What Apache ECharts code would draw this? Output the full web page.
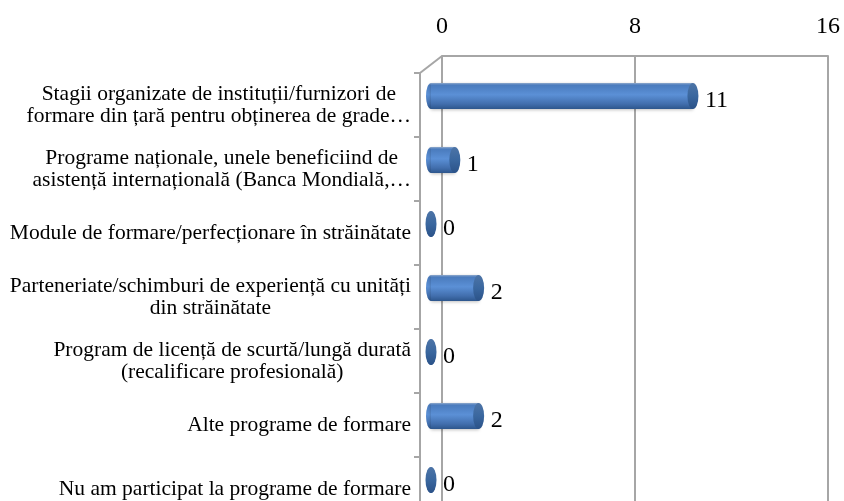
<!DOCTYPE html>
<html><head><meta charset="utf-8">
<script src="https://cdn.jsdelivr.net/npm/echarts@6/dist/echarts.min.js"></script>
<style>html,body{margin:0;padding:0;background:#fff}#c{width:844px;height:501px}</style>
</head><body><div id="c"></div>
<script>
var categories = [
  ["Stagii organizate de instituții/furnizori de", "formare din țară pentru obținerea de grade…"],
  ["Programe naționale, unele beneficiind de", "asistență internațională (Banca Mondială,…"],
  ["Module de formare/perfecționare în străinătate"],
  ["Parteneriate/schimburi de experiență cu unități", "din străinătate"],
  ["Program de licență de scurtă/lungă durată", "(recalificare profesională)"],
  ["Alte programe de formare"],
  ["Nu am participat la programe de formare"]
];
var values = [11, 1, 0, 2, 0, 2, 0];
var axisMin = 0, axisMax = 16, axisStep = 8;

var catNames = categories.map(function(c){ return c.join("\n"); });
var serif = '"Liberation Serif", "Times New Roman", serif';
var gridColor = '#a6a6a6';

var bodyGrad = new echarts.graphic.LinearGradient(0, 0, 0, 1, [
  {offset: 0, color: '#8fa9cc'},
  {offset: 0.08, color: '#4a7bbd'},
  {offset: 0.45, color: '#5b90d6'},
  {offset: 0.8, color: '#426fae'},
  {offset: 1, color: '#2d568c'}
]);
var capGrad = new echarts.graphic.LinearGradient(0, 0, 0, 1, [
  {offset: 0, color: '#4d74a6'},
  {offset: 0.5, color: '#3a679f'},
  {offset: 1, color: '#2b5288'}
]);

var chart = echarts.init(document.getElementById('c'), null, {renderer: 'canvas'});
chart.setOption({
  animation: false,
  backgroundColor: '#fff',
  grid: [
    {left: 442, right: 16, top: 56, height: 470, containLabel: false, outerBoundsMode: 'none'},
    {left: 420, right: 16, top: 73, height: 448, containLabel: false, outerBoundsMode: 'none'},
    {left: 431, width: 381, top: 64, height: 448, containLabel: false, outerBoundsMode: 'none'}
  ],
  xAxis: [
    {gridIndex: 0, type: 'value', position: 'top', min: axisMin, max: axisMax, interval: axisStep,
     axisLine: {show: true, lineStyle: {color: gridColor, width: 2}},
     axisTick: {show: false},
     splitLine: {show: true, lineStyle: {color: gridColor, width: 2}},
     axisLabel: {fontFamily: serif, fontSize: 24, color: '#000', margin: 17}},
    {gridIndex: 1, type: 'value', show: false, min: axisMin, max: axisMax},
    {gridIndex: 2, type: 'value', show: false, min: axisMin, max: axisMax}
  ],
  yAxis: [
    {gridIndex: 0, type: 'category', show: false, data: catNames, inverse: true},
    {gridIndex: 1, type: 'category', data: catNames, inverse: true,
     axisLine: {show: true, lineStyle: {color: gridColor, width: 2}},
     axisTick: {show: true, length: 6, lineStyle: {color: gridColor, width: 2}},
     splitLine: {show: false},
     axisLabel: {fontFamily: serif, fontSize: 21.5, color: '#000', margin: 9, lineHeight: 22,
       formatter: function(v){ return v.split("\n").map(function(s){ return '{c|' + s + '}'; }).join("\n"); },
       rich: {c: {align: 'center', fontFamily: serif, fontSize: 21.5, lineHeight: 22, color: '#000'}}}},
    {gridIndex: 2, type: 'category', show: false, data: catNames, inverse: true}
  ],
  graphic: [
    {type: 'line', shape: {x1: 420, y1: 73, x2: 442, y2: 56}, style: {stroke: gridColor, lineWidth: 2}}
  ],
  series: [
    {type: 'pictorialBar', xAxisIndex: 2, yAxisIndex: 2, data: values, symbol: 'circle',
     symbolPosition: 'start', symbolSize: [10, 26], symbolOffset: [-5, 0], itemStyle: {color: bodyGrad}, z: 3},
    {type: 'bar', xAxisIndex: 2, yAxisIndex: 2, data: values, barWidth: 26,
     itemStyle: {color: bodyGrad, shadowColor: 'rgba(0,0,0,0.25)', shadowBlur: 3, shadowOffsetY: 1},
     label: {show: true, position: 'right', distance: 12, offset: [0, 5], fontFamily: serif, fontSize: 24, color: '#000'},
     z: 4},
    {type: 'pictorialBar', xAxisIndex: 2, yAxisIndex: 2, data: values, symbol: 'circle',
     symbolPosition: 'end', symbolSize: [11, 26], symbolOffset: [5.5, 0], itemStyle: {color: capGrad}, z: 5}
  ]
});
</script></body></html>
